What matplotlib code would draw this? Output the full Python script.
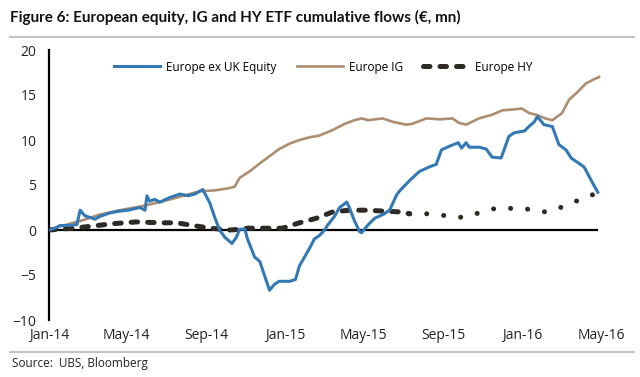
import matplotlib
matplotlib.use("Agg")
import matplotlib.pyplot as plt
import matplotlib.dates as mdates
from matplotlib.lines import Line2D
import numpy as np

plt.rcParams['font.family'] = ['Open Sans', 'DejaVu Sans']

start = np.datetime64('2014-01-01')

# days since 1 Jan 2014, values in EUR mn
eq_days = [0, 9, 17, 32, 43, 48, 55, 63, 71, 78, 94, 109, 122, 140, 148, 151, 155, 163,
           171, 186, 202, 214, 225, 237, 248, 255, 263, 271, 282, 289, 294, 302, 306,
           317, 325, 332, 340, 348, 355, 371, 380, 386, 394, 402, 409, 417, 425, 429,
           440, 448, 459, 463, 471, 479, 482, 491, 502, 517, 525, 536, 540, 556, 571,
           586, 597, 605, 617, 631, 636, 643, 648, 663, 674, 679, 683, 697, 709, 717,
           733, 740, 748, 753, 763, 776, 786, 797, 805, 817, 825, 836, 846]
eq_vals = [0, 0.2, 0.5, 0.5, 0.6, 2.2, 1.6, 1.4, 1.2, 1.5, 1.9, 2.1, 2.2, 2.5, 2.2, 3.8,
           3.2, 3.4, 3.1, 3.6, 4.0, 3.8, 4.0, 4.5, 3.0, 1.5, 0, -0.8, -1.5, -0.8, 0.1,
           0.1, -1.0, -3.0, -3.5, -5.0, -6.7, -6.0, -5.7, -5.7, -5.5, -4.0, -3.0, -2.0,
           -1.0, -0.6, 0, 0.5, 1.5, 2.5, 3.1, 2.5, 1.0, -0.2, -0.3, 0.5, 1.3, 1.8, 2.2,
           3.9, 4.3, 5.5, 6.5, 7.0, 7.3, 8.9, 9.3, 9.7, 9.1, 9.7, 9.2, 9.2, 9.0, 8.5,
           8.1, 8.0, 10.4, 10.8, 11.0, 11.5, 12.0, 12.6, 11.7, 11.5, 9.5, 8.9, 8.0,
           7.4, 7.0, 5.5, 4.2]

ig_days = [0, 17, 48, 78, 109, 140, 171, 202, 232, 255, 274, 286, 294, 309, 325, 340,
           355, 371, 386, 402, 417, 437, 456, 471, 482, 492, 514, 531, 551, 560, 582,
           603, 622, 632, 643, 663, 683, 699, 717, 729, 740, 751, 765, 776, 791, 802,
           813, 828, 839, 848]
ig_vals = [0, 0.4, 1.0, 1.7, 2.2, 2.6, 3.1, 3.7, 4.3, 4.4, 4.6, 4.8, 5.8, 6.5, 7.4, 8.2,
           9.0, 9.6, 10.0, 10.3, 10.5, 11.1, 11.8, 12.2, 12.4, 12.2, 12.4, 12.0, 11.7,
           11.8, 12.4, 12.3, 12.4, 11.9, 11.7, 12.4, 12.8, 13.3, 13.4, 13.5, 13.0, 12.8,
           12.4, 12.2, 13.0, 14.5, 15.2, 16.3, 16.7, 17.0]

hy_days = [0, 37, 63, 98, 135, 171, 197, 222, 248, 279, 299, 306, 336, 360, 386, 412,
           437, 463, 489, 517, 543, 556, 583, 611, 637, 663, 688, 714, 742, 766, 793,
           816, 837, 846]
hy_vals = [0, 0.2, 0.4, 0.7, 0.9, 0.8, 0.8, 0.5, 0.2, 0, 0.1, 0.2, 0.2, 0.2, 0.8, 1.3,
           2.0, 2.2, 2.2, 2.1, 2.0, 1.8, 1.8, 1.6, 1.4, 1.9, 2.4, 2.4, 2.3, 2.0, 2.6,
           3.3, 3.9, 4.0]
hy_split = 21  # drawn dashed up to this point, dotted after

eq_x = start + np.array(eq_days).astype('timedelta64[D]')
ig_x = start + np.array(ig_days).astype('timedelta64[D]')
hy_x = start + np.array(hy_days).astype('timedelta64[D]')

blue = '#3279B5'
tan = '#AD8D6F'
dark = '#302A24'

fig = plt.figure(figsize=(6.4, 3.77), dpi=100)
ax = fig.add_axes([49 / 640, 57 / 377, 552 / 640, 270 / 377])

ax.hlines(0, eq_x[0], eq_x[-1], color='black', lw=1.6, zorder=1)
ax.plot(eq_x, eq_vals, color=blue, lw=2.2, label='Europe ex UK Equity', zorder=3)
ax.plot(ig_x, ig_vals, color=tan, lw=1.9, label='Europe IG', zorder=2)
ax.plot(hy_x[:hy_split + 1], hy_vals[:hy_split + 1], color=dark, lw=3.6,
        dashes=(1.3, 2.0), dash_capstyle='round', label='Europe HY', zorder=2)
ax.plot(hy_x[hy_split:], hy_vals[hy_split:], color=dark, lw=3.6,
        dashes=(0.01, 3.4), dash_capstyle='round', zorder=2)

ax.set_xlim(start, np.datetime64('2016-05-01'))
ax.set_ylim(-10, 20)
ax.set_yticks(np.arange(-10, 21, 5))
ax.xaxis.set_major_locator(mdates.MonthLocator(bymonth=[1, 5, 9]))
ax.xaxis.set_major_formatter(mdates.DateFormatter('%b-%y'))

for s in ['top', 'right', 'bottom']:
    ax.spines[s].set_visible(False)
ax.spines['left'].set_linewidth(1.6)
ax.tick_params(axis='both', length=0, labelsize=10, colors='#222222')
ax.tick_params(axis='y', pad=9)
ax.tick_params(axis='x', pad=6)

ax.legend(loc='center', bbox_to_anchor=(0.497, 0.937), ncol=3, frameon=False,
          fontsize=8.5, handlelength=3.9, handletextpad=0.5, columnspacing=1.7)

fig.text(10 / 640, 1 - 17 / 377, 'Figure 6: European equity, IG and HY ETF cumulative flows (€, mn)',
         family=['Lato', 'DejaVu Sans'], fontsize=11, fontweight='bold',
         va='center', ha='left', color='#111111')
fig.text(12 / 640, 1 - 364 / 377, 'Source:  UBS, Bloomberg', fontsize=8.5,
         va='center', ha='left', color='#222222')
for yy in [1 - 37 / 377, 1 - 352 / 377]:
    fig.add_artist(Line2D([10 / 640, 634 / 640], [yy, yy], transform=fig.transFigure,
                          color='#C4C4C4', lw=1.5))

fig.savefig('out.png', dpi=100)
